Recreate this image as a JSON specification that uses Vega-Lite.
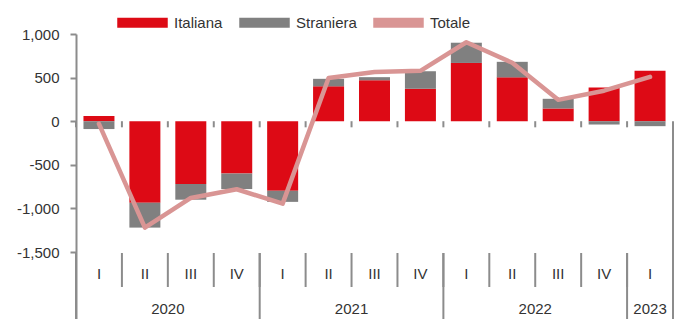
{
  "$schema": "https://vega.github.io/schema/vega-lite/v6.json",
  "width": 597,
  "height": 285,
  "autosize": {"type": "none"},
  "padding": {"left": 76, "top": 34, "right": 15, "bottom": 0},
  "background": "white",
  "config": {
    "view": {"stroke": null},
    "font": "Liberation Sans",
    "text": {"font": "Liberation Sans", "fontSize": 15, "color": "#333333"}
  },
  "datasets": {
    "quarters": [
      {"q": "2020-I", "label": "I", "year": "2020", "Italiana": 60, "Straniera": -90, "Totale": -30},
      {"q": "2020-II", "label": "II", "year": "2020", "Italiana": -935, "Straniera": -285, "Totale": -1220},
      {"q": "2020-III", "label": "III", "year": "2020", "Italiana": -720, "Straniera": -180, "Totale": -880},
      {"q": "2020-IV", "label": "IV", "year": "2020", "Italiana": -600, "Straniera": -178, "Totale": -780},
      {"q": "2021-I", "label": "I", "year": "2021", "Italiana": -798, "Straniera": -127, "Totale": -945},
      {"q": "2021-II", "label": "II", "year": "2021", "Italiana": 400, "Straniera": 86, "Totale": 495},
      {"q": "2021-III", "label": "III", "year": "2021", "Italiana": 470, "Straniera": 35, "Totale": 565},
      {"q": "2021-IV", "label": "IV", "year": "2021", "Italiana": 372, "Straniera": 201, "Totale": 578},
      {"q": "2022-I", "label": "I", "year": "2022", "Italiana": 668, "Straniera": 232, "Totale": 905},
      {"q": "2022-II", "label": "II", "year": "2022", "Italiana": 503, "Straniera": 178, "Totale": 670},
      {"q": "2022-III", "label": "III", "year": "2022", "Italiana": 146, "Straniera": 111, "Totale": 245},
      {"q": "2022-IV", "label": "IV", "year": "2022", "Italiana": 386, "Straniera": -38, "Totale": 350},
      {"q": "2023-I", "label": "I", "year": "2023", "Italiana": 578, "Straniera": -57, "Totale": 508}
    ],
    "years": [
      {"year": "2020", "center": "2020-III", "start": "2020-I"},
      {"year": "2021", "center": "2021-III", "start": "2021-I"},
      {"year": "2022", "center": "2022-III", "start": "2022-I"},
      {"year": "2023", "center": "2023-I", "start": "2023-I"}
    ]
  },
  "encoding": {
    "x": {
      "field": "q",
      "type": "nominal",
      "sort": null,
      "scale": {"padding": 0, "paddingInner": 0, "paddingOuter": 0},
      "axis": null
    }
  },
  "layer": [
    {
      "data": {"name": "quarters"},
      "transform": [{"fold": ["Italiana", "Straniera"], "as": ["key", "value"]}],
      "mark": {"type": "bar", "width": {"band": 0.675}},
      "encoding": {
        "y": {
          "field": "value",
          "type": "quantitative",
          "stack": "zero",
          "scale": {"domain": [-2268, 1000], "nice": false, "zero": false},
          "axis": {
            "values": [-1500, -1000, -500, 0, 500, 1000],
            "format": ",d",
            "labelExpr": "replace(datum.label, '\u2212', '-')",
            "title": null,
            "grid": false,
            "domainColor": "#8c8c8c",
            "domainWidth": 2,
            "tickColor": "#8c8c8c",
            "tickWidth": 2,
            "tickSize": 6,
            "labelPadding": 11,
            "labelFont": "Liberation Sans",
            "labelFontSize": 15,
            "labelColor": "#333333"
          }
        },
        "color": {
          "field": "key",
          "type": "nominal",
          "scale": {"domain": ["Italiana", "Straniera", "Totale"], "range": ["#DD0A15", "#808080", "#D99594"]},
          "legend": {
            "orient": "none",
            "direction": "horizontal",
            "legendX": 41,
            "legendY": -37,
            "title": null,
            "symbolType": "M-1,-0.2H1V0.2H-1Z",
            "symbolSize": 2550,
            "symbolStrokeWidth": 0,
            "symbolOpacity": 1,
            "labelFont": "Liberation Sans",
            "labelFontSize": 15,
            "labelColor": "#333333",
            "labelOffset": 6,
            "columnPadding": 16
          }
        },
        "order": {"field": "key", "sort": "ascending"}
      }
    },
    {
      "data": {"name": "quarters"},
      "mark": {"type": "rule", "color": "#8c8c8c", "strokeWidth": 2},
      "encoding": {"y": {"datum": 0}}
    },
    {
      "data": {"name": "quarters"},
      "mark": {"type": "rule", "color": "#8c8c8c", "strokeWidth": 2},
      "encoding": {
        "x": {"field": "q", "type": "nominal", "sort": null, "bandPosition": 0},
        "y": {"datum": 0},
        "y2": {"datum": -70}
      }
    },
    {
      "data": {"name": "quarters"},
      "mark": {"type": "line", "color": "#D99594", "strokeWidth": 4.5, "strokeJoin": "round", "strokeCap": "round"},
      "encoding": {
        "y": {"field": "Totale", "type": "quantitative"}
      }
    },
    {
      "data": {"name": "quarters"},
      "mark": {"type": "text", "baseline": "middle", "align": "center"},
      "encoding": {
        "y": {"datum": -1752},
        "text": {"field": "label"}
      }
    },
    {
      "data": {"name": "quarters"},
      "mark": {"type": "rule", "color": "#8c8c8c", "strokeWidth": 2},
      "encoding": {
        "x": {"field": "q", "type": "nominal", "sort": null, "bandPosition": 0},
        "y": {"datum": -1511},
        "y2": {"datum": -1901}
      }
    },
    {
      "data": {"name": "years"},
      "mark": {"type": "rule", "color": "#8c8c8c", "strokeWidth": 2},
      "encoding": {
        "x": {"field": "start", "type": "nominal", "sort": null, "bandPosition": 0},
        "y": {"datum": -1511},
        "y2": {"datum": -2268}
      }
    },
    {
      "data": {"name": "years"},
      "transform": [{"filter": "datum.year == '2023'"}],
      "mark": {"type": "rule", "color": "#8c8c8c", "strokeWidth": 2},
      "encoding": {
        "x": {"field": "start", "type": "nominal", "sort": null, "bandPosition": 1},
        "y": {"datum": -2268},
        "y2": {"datum": 0}
      }
    },
    {
      "data": {"name": "years"},
      "transform": [{"filter": "datum.year != '2023'"}],
      "mark": {"type": "text", "baseline": "middle", "align": "center"},
      "encoding": {
        "x": {"field": "center", "type": "nominal", "sort": null, "bandPosition": 0},
        "y": {"datum": -2153},
        "text": {"field": "year"}
      }
    },
    {
      "data": {"name": "years"},
      "transform": [{"filter": "datum.year == '2023'"}],
      "mark": {"type": "text", "baseline": "middle", "align": "center"},
      "encoding": {
        "x": {"field": "center", "type": "nominal", "sort": null, "bandPosition": 0.5},
        "y": {"datum": -2153},
        "text": {"field": "year"}
      }
    }
  ]
}
